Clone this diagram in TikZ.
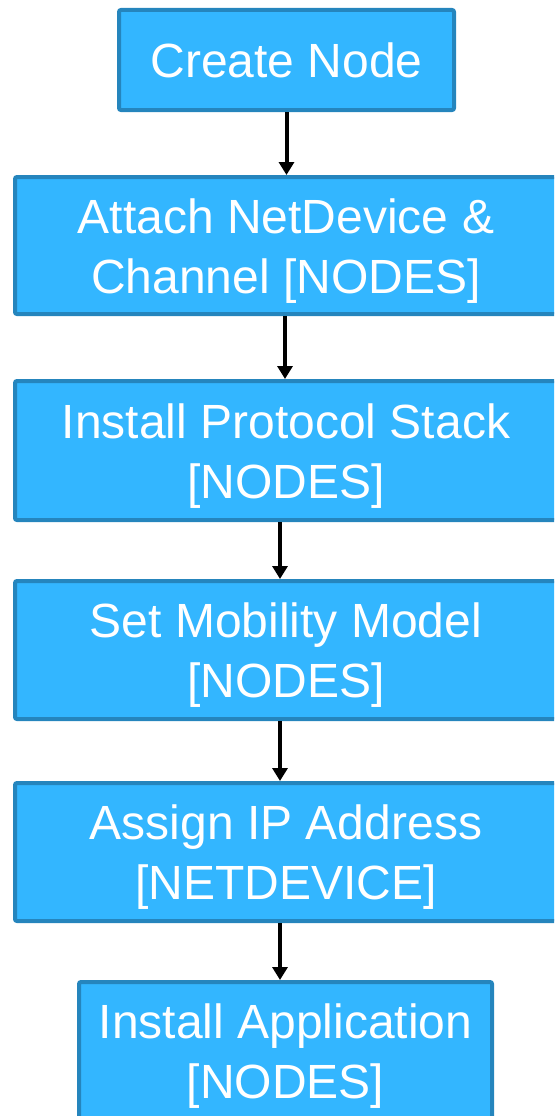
\documentclass[tikz,border=0pt]{standalone}
\usepackage{fontspec}
\setmainfont{Liberation Sans}
\usetikzlibrary{arrows.meta}
\definecolor{boxfill}{HTML}{33B6FF}
\definecolor{boxline}{HTML}{2585BD}
\newcommand\lifttop{\rule{0pt}{45pt}}
\tikzset{
  stepbox/.style={draw=boxline, fill=boxfill, line width=4pt, rounded corners=2pt,
    text=white, font=\fontsize{48}{60}\selectfont, align=center, inner sep=0pt},
  flowarrow/.style={line width=4pt, draw=black, -{Triangle[width=15pt,length=13pt]}}
}
\begin{document}
\begin{tikzpicture}[x=1pt,y=-1pt]
\useasboundingbox (0,0) rectangle (554,1116);
\clip (0,0) rectangle (554,1116);
\node[stepbox, minimum width=335pt, minimum height=100pt] (n1) at (286.5,60) {Create Node};
\node[stepbox, minimum width=542pt, minimum height=137pt] (n2) at (286,245.5) {\lifttop Attach NetDevice \&\\Channel [NODES]};
\node[stepbox, minimum width=542pt, minimum height=139pt] (n3) at (286,450.5) {\lifttop Install Protocol Stack\\{}[NODES]};
\node[stepbox, minimum width=542pt, minimum height=138pt] (n4) at (286,650) {\lifttop Set Mobility Model\\{}[NODES]};
\node[stepbox, minimum width=542pt, minimum height=138pt] (n5) at (286,852) {\lifttop Assign IP Address\\{}[NETDEVICE]};
\node[stepbox, minimum width=413pt, minimum height=138pt] (n6) at (285.5,1051) {\lifttop Install Application\\{}[NODES]};
\draw[flowarrow] (n1.south) -- (n1.south |- n2.north);
\draw[flowarrow] (n2.south -| 285,0) -- (n3.north -| 285,0);
\draw[flowarrow] (n3.south -| 280,0) -- (n4.north -| 280,0);
\draw[flowarrow] (n4.south -| 280,0) -- (n5.north -| 280,0);
\draw[flowarrow] (n5.south -| 280,0) -- (n6.north -| 280,0);
\end{tikzpicture}
\end{document}
